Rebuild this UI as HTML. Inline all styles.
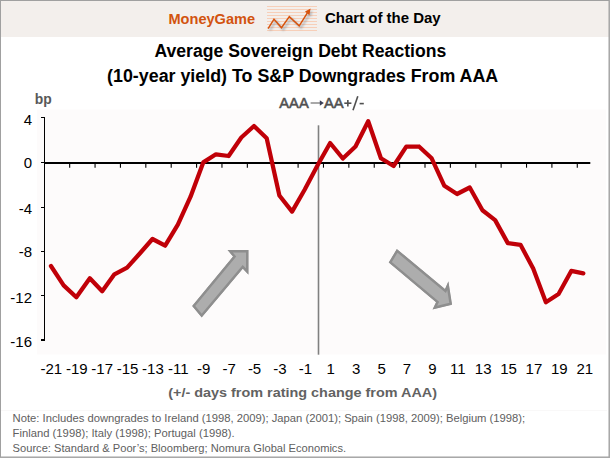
<!DOCTYPE html>
<html><head><meta charset="utf-8">
<style>
html,body{margin:0;padding:0;background:#fff;}
body{width:610px;height:458px;overflow:hidden;}
svg{display:block;font-family:"Liberation Sans",sans-serif;}
</style></head>
<body>
<svg width="610" height="458" viewBox="0 0 610 458">
<defs>
<filter id="sh" x="-20%" y="-20%" width="140%" height="140%"><feGaussianBlur stdDeviation="0.8"/></filter>
</defs>
<rect x="0" y="0" width="610" height="458" fill="#fff"/>
<!-- header -->
<rect x="1" y="1" width="608" height="36" fill="#f3efec"/>
<text x="168.5" y="23.6" font-size="15.4" font-weight="bold" fill="#d2530f" textLength="86.5" lengthAdjust="spacingAndGlyphs">MoneyGame</text>
<g stroke="#f7cfb9" stroke-width="1">
<line x1="267" y1="6.5" x2="317" y2="6.5"/>
<line x1="267" y1="9.5" x2="317" y2="9.5"/>
<line x1="267" y1="12.5" x2="317" y2="12.5"/>
<line x1="267" y1="15.5" x2="317" y2="15.5"/>
<line x1="267" y1="18.5" x2="317" y2="18.5"/>
<line x1="267" y1="21.5" x2="317" y2="21.5"/>
<line x1="267" y1="24.5" x2="317" y2="24.5"/>
<line x1="267" y1="27.5" x2="317" y2="27.5"/>
<line x1="267" y1="30.5" x2="317" y2="30.5"/>
</g>
<g transform="translate(1.8,1.8)" filter="url(#sh)" opacity="0.45">
<polyline points="268.1,28.7 274,19.2 281.5,27.8 289.3,16.6 299.2,25.9 307.4,12.9" fill="none" stroke="#6a7684" stroke-width="2"/>
<polygon points="310.6,8.6 305.0,11.4 309.4,15.2" fill="#6a7684"/>
</g>
<polyline points="268.1,28.7 274,19.2 281.5,27.8 289.3,16.6 299.2,25.9 307.4,12.9" fill="none" stroke="#d6540f" stroke-width="1.5" stroke-linejoin="miter"/>
<polygon points="310.6,8.6 305.0,11.4 309.4,15.2" fill="#d6540f"/>
<text x="325" y="23.2" font-size="15" font-weight="bold" fill="#000" textLength="115.7" lengthAdjust="spacingAndGlyphs">Chart of the Day</text>

<!-- title -->
<text x="154.5" y="56.7" font-size="17.6" font-weight="bold" fill="#000" textLength="291.7" lengthAdjust="spacingAndGlyphs">Average Sovereign Debt Reactions</text>
<text x="107.1" y="81.6" font-size="17.6" font-weight="bold" fill="#000" textLength="391.1" lengthAdjust="spacingAndGlyphs">(10-year yield) To S&amp;P Downgrades From AAA</text>

<!-- plot area -->
<rect x="37" y="109.5" width="569" height="245" fill="#fdfbfb"/>
<text x="34.8" y="103.7" font-size="14" font-weight="bold" fill="#595959" textLength="17" lengthAdjust="spacingAndGlyphs">bp</text>
<text x="279.3" y="107.7" font-size="14.6" fill="#505050" stroke="#505050" stroke-width="0.55" textLength="29.4" lengthAdjust="spacingAndGlyphs">AAA</text>
<line x1="310.6" y1="103" x2="320.5" y2="103" stroke="#9a9a9a" stroke-width="1.7"/>
<polygon points="319.8,100.2 323.8,103 319.8,105.8" fill="#3a3f55"/>
<text x="323.9" y="107.7" font-size="14.6" fill="#505050" stroke="#505050" stroke-width="0.55" textLength="19.7" lengthAdjust="spacingAndGlyphs">AA</text>
<g stroke="#505050" stroke-width="1.6" fill="none">
<line x1="344.3" y1="103.2" x2="351.4" y2="103.2"/>
<line x1="347.85" y1="99.9" x2="347.85" y2="106.5"/>
<line x1="353" y1="110.2" x2="357.8" y2="96.3"/>
<line x1="359.6" y1="103.6" x2="363.8" y2="103.6"/>
</g>

<!-- vertical line -->
<line x1="318.5" y1="125.3" x2="318.5" y2="354.7" stroke="#808080" stroke-width="1.6"/>

<!-- axes -->
<g stroke="#000" stroke-width="1" shape-rendering="crispEdges">
<line x1="44.5" y1="117" x2="44.5" y2="341"/>
<line x1="41" y1="340.5" x2="44" y2="340.5"/>
<line x1="41" y1="117.5" x2="44" y2="117.5"/>
<line x1="41" y1="162.5" x2="44" y2="162.5"/>
<line x1="41" y1="207.5" x2="44" y2="207.5"/>
<line x1="41" y1="251.5" x2="44" y2="251.5"/>
<line x1="41" y1="295.5" x2="44" y2="295.5"/>
<line x1="41" y1="339.5" x2="44" y2="339.5"/>
</g>
<line x1="44" y1="163" x2="590.3" y2="163" stroke="#000" stroke-width="2"/>
<g stroke="#000" stroke-width="1.1">
<line x1="69.68" y1="164" x2="69.68" y2="167.7"/>
<line x1="95.06" y1="164" x2="95.06" y2="167.7"/>
<line x1="120.44" y1="164" x2="120.44" y2="167.7"/>
<line x1="145.82" y1="164" x2="145.82" y2="167.7"/>
<line x1="171.20" y1="164" x2="171.20" y2="167.7"/>
<line x1="196.58" y1="164" x2="196.58" y2="167.7"/>
<line x1="221.96" y1="164" x2="221.96" y2="167.7"/>
<line x1="247.34" y1="164" x2="247.34" y2="167.7"/>
<line x1="272.72" y1="164" x2="272.72" y2="167.7"/>
<line x1="298.10" y1="164" x2="298.10" y2="167.7"/>
<line x1="323.48" y1="164" x2="323.48" y2="167.7"/>
<line x1="348.86" y1="164" x2="348.86" y2="167.7"/>
<line x1="374.24" y1="164" x2="374.24" y2="167.7"/>
<line x1="399.62" y1="164" x2="399.62" y2="167.7"/>
<line x1="425.00" y1="164" x2="425.00" y2="167.7"/>
<line x1="450.38" y1="164" x2="450.38" y2="167.7"/>
<line x1="475.76" y1="164" x2="475.76" y2="167.7"/>
<line x1="501.14" y1="164" x2="501.14" y2="167.7"/>
<line x1="526.52" y1="164" x2="526.52" y2="167.7"/>
<line x1="551.90" y1="164" x2="551.90" y2="167.7"/>
<line x1="577.28" y1="164" x2="577.28" y2="167.7"/>
</g>

<g font-size="15" fill="#000" text-anchor="end">
<text x="32" y="124.7">4</text>
<text x="32" y="167.8">0</text>
<text x="32" y="213.7">-4</text>
<text x="32" y="256.7">-8</text>
<text x="32" y="302.7">-12</text>
<text x="32" y="347">-16</text>
</g>
<g font-size="15" fill="#000" text-anchor="middle">
<text x="51.35" y="373.7">-21</text>
<text x="76.75" y="373.7">-19</text>
<text x="102.15" y="373.7">-17</text>
<text x="127.55" y="373.7">-15</text>
<text x="152.95" y="373.7">-13</text>
<text x="178.35" y="373.7">-11</text>
<text x="203.75" y="373.7">-9</text>
<text x="229.15" y="373.7">-7</text>
<text x="254.55" y="373.7">-5</text>
<text x="279.95" y="373.7">-3</text>
<text x="305.35" y="373.7">-1</text>
<text x="330.75" y="373.7">1</text>
<text x="356.15" y="373.7">3</text>
<text x="381.55" y="373.7">5</text>
<text x="406.95" y="373.7">7</text>
<text x="432.35" y="373.7">9</text>
<text x="457.75" y="373.7">11</text>
<text x="483.15" y="373.7">13</text>
<text x="508.55" y="373.7">15</text>
<text x="533.95" y="373.7">17</text>
<text x="559.35" y="373.7">19</text>
<text x="584.75" y="373.7">21</text>
</g>

<!-- data line -->
<polyline points="50.95,266.0 63.64,285.4 76.33,297.2 89.82,278.2 102.21,291.2 114.40,274.3 127.09,267.6 139.78,253.5 152.47,239.0 165.16,245.7 177.85,224.7 190.55,196.7 203.24,162.4 215.93,154.3 228.62,156.0 241.31,137.5 254.00,126.0 266.69,138.3 279.38,195.5 292.07,211.6 304.76,189.5 317.45,165.5 330.14,143.0 342.83,158.5 355.52,146.5 368.21,121.2 380.90,158.2 393.59,166.0 406.28,146.6 418.97,146.5 431.66,158.3 444.35,185.8 457.05,194.0 469.74,187.5 482.43,210.3 495.12,220.1 507.81,243.1 520.50,244.8 533.19,268.5 545.88,302.2 558.57,294.0 571.26,270.9 583.35,273.4" fill="none" stroke="#c00008" stroke-width="4.25" stroke-linejoin="round" stroke-linecap="round"/>

<!-- arrows -->
<clipPath id="ca1"><polygon points="192.1,306.0 233,256.6 227.5,249.9 248.5,249.9 248.5,274.7 242.8,268.8 201.7,317.6"/></clipPath>
<clipPath id="ca2"><polygon points="396.8,248.9 445,289 448.4,281.3 452.1,304.7 432.5,309.4 436,302.3 388.7,262.6"/></clipPath>
<polygon points="192.1,306.0 233,256.6 227.5,249.9 248.5,249.9 248.5,274.7 242.8,268.8 201.7,317.6" fill="#adadad" stroke="#8e8e8e" stroke-width="5" stroke-linejoin="miter" clip-path="url(#ca1)"/>
<polygon points="396.8,248.9 445,289 448.4,281.3 452.1,304.7 432.5,309.4 436,302.3 388.7,262.6" fill="#adadad" stroke="#8e8e8e" stroke-width="5" stroke-linejoin="miter" clip-path="url(#ca2)"/>

<text x="168.2" y="397.3" font-size="13.6" font-weight="bold" fill="#626262" textLength="268.8" lengthAdjust="spacingAndGlyphs">(+/- days from rating change from AAA)</text>

<line x1="1" y1="410.5" x2="607" y2="410.5" stroke="#f9f8f8" stroke-width="1"/>

<g font-size="11.1" fill="#606060">
<text x="12.6" y="422" textLength="512.6" lengthAdjust="spacingAndGlyphs">Note: Includes downgrades to Ireland (1998, 2009); Japan (2001); Spain (1998, 2009); Belgium (1998);</text>
<text x="12.6" y="436.8" textLength="222" lengthAdjust="spacingAndGlyphs">Finland (1998); Italy (1998); Portugal (1998).</text>
<text x="12.6" y="451.5" textLength="333.5" lengthAdjust="spacingAndGlyphs">Source: Standard &amp; Poor’s; Bloomberg; Nomura Global Economics.</text>
</g>

<!-- border -->
<rect x="0.5" y="0.5" width="608.5" height="456.5" fill="none" stroke="#a0a0a0" stroke-width="1"/>
<rect x="609" y="0" width="1" height="458" fill="#a8a8a8"/>
<rect x="0" y="457" width="610" height="1" fill="#a8a8a8"/>
</svg>
</body></html>
